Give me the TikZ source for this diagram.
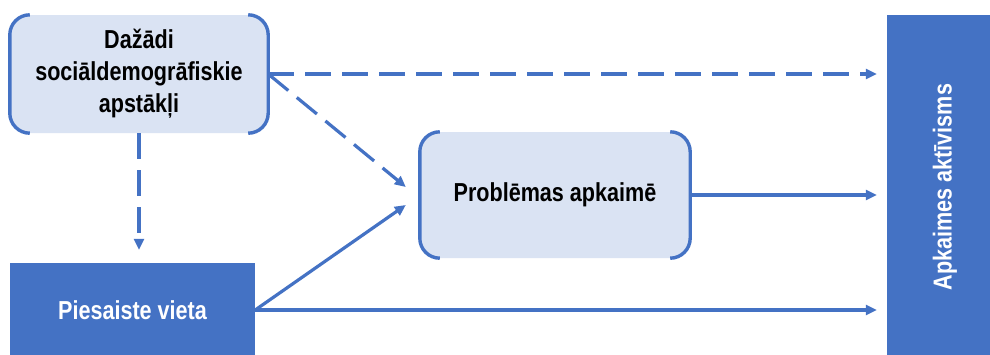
\documentclass[tikz,border=0pt]{standalone}
\usepackage{fontspec}
\setmainfont{Liberation Sans}[FakeStretch=0.83]
\usetikzlibrary{arrows.meta}
\definecolor{darkblue}{HTML}{4472C4}
\definecolor{lightblue}{HTML}{DAE3F3}

\begin{document}
\begin{tikzpicture}[x=1pt, y=1pt, >={Triangle[length=11pt, width=10pt]}, every node/.style={font=\bfseries\fontsize{26}{32}\selectfont, align=center, inner sep=0pt}, soft/.style={fill=lightblue, rounded corners=20pt}, dark/.style={fill=darkblue, text=white}, bracket/.style={draw=darkblue, line width=3.4pt, rounded corners=20pt}, link/.style={->, draw=darkblue, line width=3.2pt}, dashlink/.style={link, dash pattern=on 26pt off 11pt}]

        \clip (0,0) rectangle (990,-354);

        % Light boxes.
        \node[soft, minimum width=258pt, minimum height=118pt] (socdem) at (139,-74) {Dažādi\\sociāldemogrāfiskie\\apstākļi};
        \node[soft, minimum width=270pt, minimum height=126pt] (probl) at (555,-195) {Problēmas apkaimē};
        % Side brackets.
        \foreach \n in {socdem,probl} {
            \draw[bracket] ([xshift=20pt]\n.north west) -- (\n.north west) -- (\n.south west) -- ([xshift=20pt]\n.south west);
            \draw[bracket] ([xshift=-20pt]\n.north east) -- (\n.north east) -- (\n.south east) -- ([xshift=-20pt]\n.south east);
        }

        % Dark boxes.
        \node[dark, minimum width=245pt, minimum height=94pt] (vieta) at (132.5,-310) {Piesaiste vieta};
        \node[dark, minimum width=116pt, minimum height=344pt] (aktiv) at (945,-187) {\rotatebox{90}{Apkaimes aktīvisms}};

        % Dashed connections.
        \draw[dashlink, shorten >=10pt] (socdem.east) -- (socdem.east -| aktiv.west);
        \draw[dashlink] (socdem.east) -- ([xshift=-14pt, yshift=8pt]probl.west);
        \draw[dashlink, shorten >=13pt] (socdem.south) -- (socdem.south |- vieta.north);

        % Solid connections.
        \draw[link] (vieta.east) -- ([xshift=-14pt, yshift=-10pt]probl.west);
        \draw[link, shorten >=10pt] (probl.east) -- (probl.east -| aktiv.west);
        \draw[link, shorten >=10pt] (vieta.east) -- (vieta.east -| aktiv.west);

    \end{tikzpicture}
\end{document}
